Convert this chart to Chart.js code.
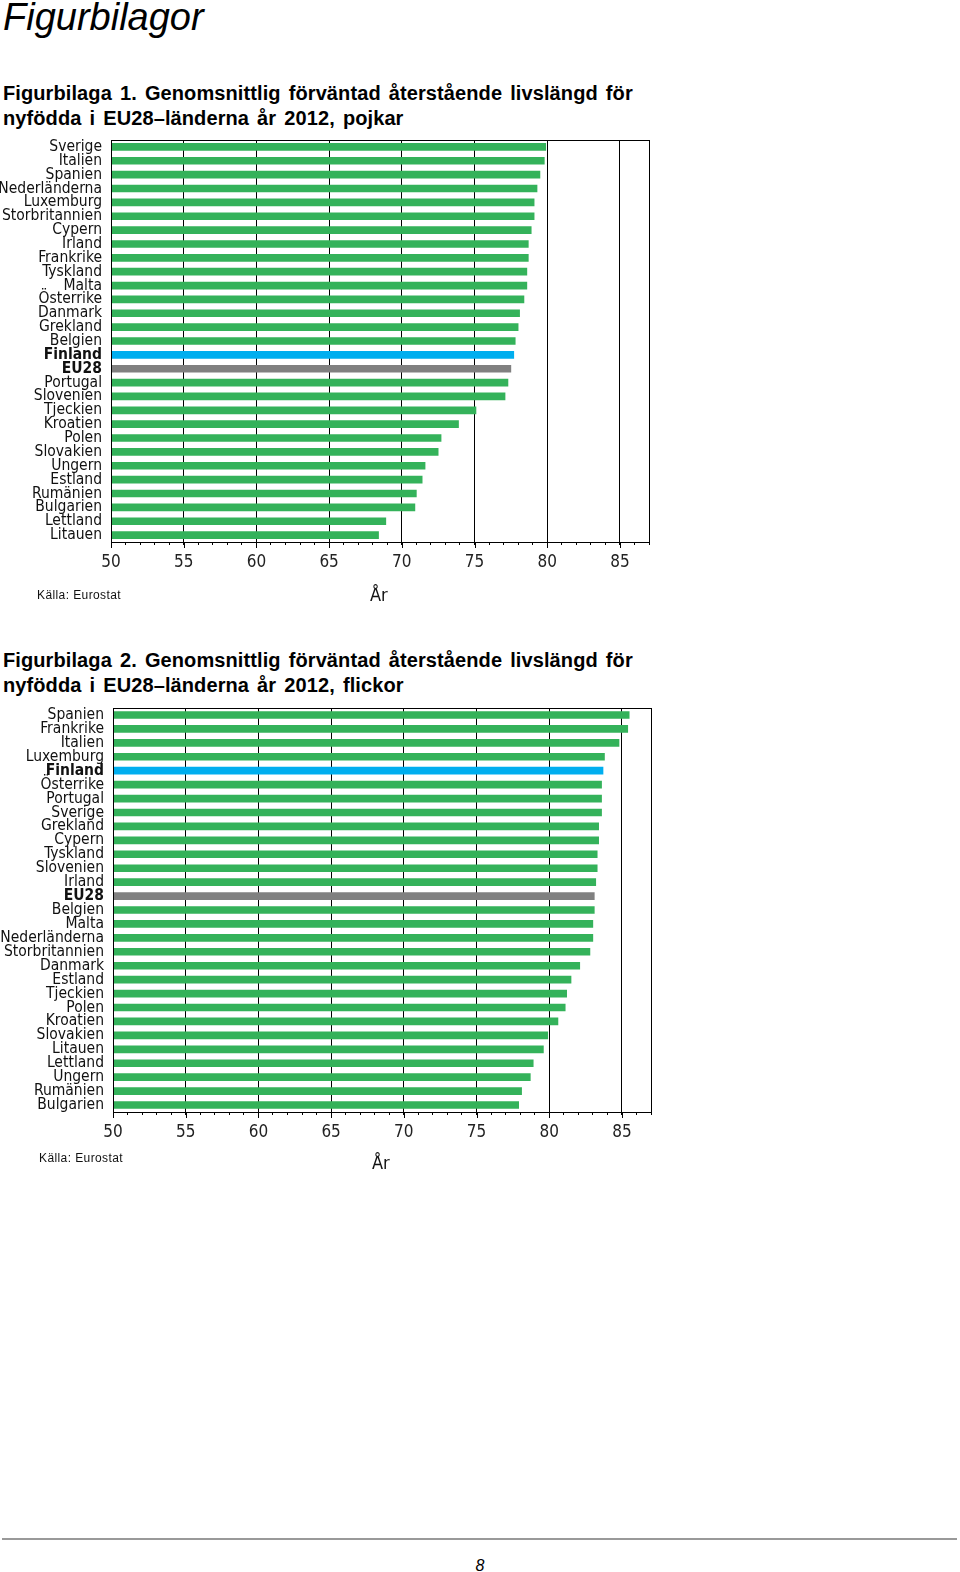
<!DOCTYPE html>
<html><head><meta charset="utf-8">
<script src="https://cdn.jsdelivr.net/npm/chart.js@4/dist/chart.umd.min.js"></script>
<style>
html,body{margin:0;padding:0;background:#fff;}
body{width:960px;height:1572px;position:relative;overflow:hidden;font-family:"Liberation Sans",Arial,sans-serif;color:#000;}
.abs{position:absolute;white-space:nowrap;}
.h1{left:3px;top:-2px;font-size:38px;line-height:38px;font-style:italic;}
.cap{left:3px;font-size:20px;line-height:25px;font-weight:bold;word-spacing:2.4px;letter-spacing:0.1px;}
.src{font-size:12px;letter-spacing:0.4px;color:#111;}
.ar{font-family:"Liberation Sans Narrow","Arial Narrow","DejaVu Sans Condensed",sans-serif;font-size:18px;color:#111;}
canvas{position:absolute;left:0;}
.rule{position:absolute;left:2px;width:955px;top:1538px;height:2px;background:#999;}
.pg{left:0;width:960px;text-align:center;top:1557px;font-size:16px;font-style:italic;}
</style></head>
<body>
<div class="abs h1">Figurbilagor</div>
<div class="abs cap" style="top:81px;">Figurbilaga 1. Genomsnittlig förväntad återstående livslängd för<br>nyfödda i EU28–länderna år 2012, pojkar</div>
<canvas id="c1" width="660" height="470" style="top:130px;"></canvas>
<div class="abs src" style="left:37px;top:588px;">Källa: Eurostat</div>
<div class="abs ar" style="left:370px;top:584px;">År</div>

<div class="abs cap" style="top:648px;">Figurbilaga 2. Genomsnittlig förväntad återstående livslängd för<br>nyfödda i EU28–länderna år 2012, flickor</div>
<canvas id="c2" width="660" height="470" style="top:698px;"></canvas>
<div class="abs src" style="left:39px;top:1151px;">Källa: Eurostat</div>
<div class="abs ar" style="left:372px;top:1152px;">År</div>

<div class="rule"></div>
<div class="abs pg">8</div>

<script>
const boysCountries = ["Sverige","Italien","Spanien","Nederländerna","Luxemburg","Storbritannien","Cypern","Irland","Frankrike","Tyskland","Malta","Österrike","Danmark","Grekland","Belgien","Finland","EU28","Portugal","Slovenien","Tjeckien","Kroatien","Polen","Slovakien","Ungern","Estland","Rumänien","Bulgarien","Lettland","Litauen"];
const boysValues = [79.9,79.8,79.5,79.3,79.1,79.1,78.9,78.7,78.7,78.6,78.6,78.4,78.1,78.0,77.8,77.7,77.5,77.3,77.1,75.1,73.9,72.7,72.5,71.6,71.4,71.0,70.9,68.9,68.4];

const girlsCountries = ["Spanien","Frankrike","Italien","Luxemburg","Finland","Österrike","Portugal","Sverige","Grekland","Cypern","Tyskland","Slovenien","Irland","EU28","Belgien","Malta","Nederländerna","Storbritannien","Danmark","Estland","Tjeckien","Polen","Kroatien","Slovakien","Litauen","Lettland","Ungern","Rumänien","Bulgarien"];
const girlsValues = [85.5,85.4,84.8,83.8,83.7,83.6,83.6,83.6,83.4,83.4,83.3,83.3,83.2,83.1,83.1,83.0,83.0,82.8,82.1,81.5,81.2,81.1,80.6,79.9,79.6,78.9,78.7,78.1,77.9];

const axisMin = 50, axisMax = 87, majorStep = 5;
const highlightFinland = "Finland", highlightEU = "EU28";

const GREEN = "rgb(52,178,90)", BLUE = "rgb(0,174,239)", GRAY = "rgb(128,128,128)";
const NARROW = '"Liberation Sans Narrow","Arial Narrow","DejaVu Sans Condensed",sans-serif';

const frame = {
  id: 'frame',
  afterDraw(chart) {
    const {ctx, chartArea: a, scales: {x}} = chart;
    ctx.save();
    ctx.strokeStyle = '#000'; ctx.lineWidth = 1;
    ctx.strokeRect(Math.round(a.left) + 0.5, Math.round(a.top) + 0.5, Math.round(a.right - a.left), Math.round(a.bottom - a.top));
    x.ticks.forEach(t => {
      if (t.value % majorStep === 0) {
        const px = Math.round(x.getPixelForValue(t.value)) + 0.5;
        ctx.beginPath(); ctx.moveTo(px, a.bottom); ctx.lineTo(px, a.bottom + 6); ctx.stroke();
      }
    });
    ctx.restore();
  }
};

function makeChart(id, labels, values, padding, axisLeft) {
  return new Chart(document.getElementById(id), {
    type: 'bar',
    data: {
      labels: labels,
      datasets: [{
        data: values,
        backgroundColor: labels.map(l => l === highlightFinland ? BLUE : (l === highlightEU ? GRAY : GREEN)),
        barThickness: 7,
        borderWidth: 0
      }]
    },
    options: {
      indexAxis: 'y',
      responsive: false,
      animation: false,
      devicePixelRatio: 1,
      layout: {padding: padding},
      plugins: {legend: {display: false}, tooltip: {enabled: false}},
      scales: {
        x: {
          type: 'linear', min: axisMin, max: axisMax,
          border: {color: '#000', width: 1},
          ticks: {stepSize: 1, autoSkip: false, maxRotation: 0, minRotation: 0, padding: 7, color: '#222',
                  font: {family: NARROW, size: 17},
                  callback: v => (v % majorStep === 0 ? String(v) : '')},
          grid: {color: c => (c.tick && c.tick.value % majorStep === 0) ? '#000' : 'rgba(0,0,0,0)',
                 tickColor: '#000', tickLength: 3, lineWidth: 1},
          afterFit: s => { s.height = 40; s.paddingLeft = 0; s.paddingRight = 0; }
        },
        y: {
          border: {color: '#000', width: 1},
          grid: {display: false, drawTicks: false},
          ticks: {autoSkip: false, padding: 9, color: '#111',
                  font: c => ({family: NARROW, size: 15.5,
                               weight: (labels[c.index] === highlightFinland || labels[c.index] === highlightEU) ? 'bold' : 'normal'})},
          afterFit: s => { s.width = axisLeft; s.paddingTop = 0; s.paddingBottom = 0; }
        }
      }
    },
    plugins: [frame]
  });
}

makeChart('c1', boysCountries, boysValues, {top: 10, right: 11, bottom: 18, left: 0}, 111);
makeChart('c2', girlsCountries, girlsValues, {top: 10, right: 9, bottom: 16, left: 0}, 113);
</script>
</body></html>
